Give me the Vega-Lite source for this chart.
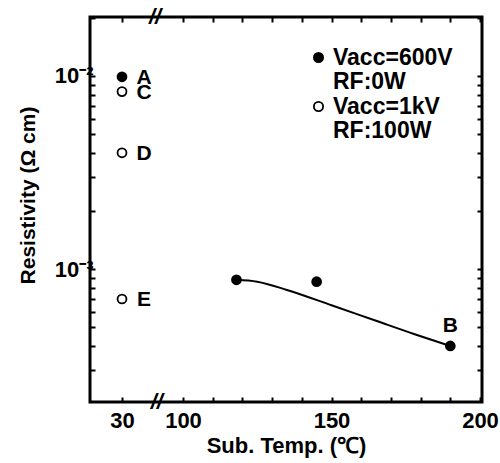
{
  "$schema": "https://vega.github.io/schema/vega-lite/v6.json",
  "width": 392,
  "height": 385,
  "autosize": {"type": "none"},
  "padding": {"left": 90, "top": 17, "right": 18, "bottom": 61},
  "background": "white",
  "config": {
    "view": {"stroke": "black", "strokeWidth": 3},
    "font": "Liberation Sans"
  },
  "datasets": {
    "curve": [
      {"t": 118, "r": 0.00088},
      {"t": 125, "r": 0.00086},
      {"t": 135, "r": 0.00078},
      {"t": 150, "r": 0.00065},
      {"t": 165, "r": 0.00054},
      {"t": 178, "r": 0.00046},
      {"t": 190, "r": 0.0004}
    ],
    "points": [
      {"t": 30, "r": 0.0099, "s": "600", "label": "A"},
      {"t": 30, "r": 0.0083, "s": "1k", "label": "C"},
      {"t": 30, "r": 0.004, "s": "1k", "label": "D"},
      {"t": 30, "r": 0.0007, "s": "1k", "label": "E"},
      {"t": 118, "r": 0.00088, "s": "600", "label": ""},
      {"t": 145, "r": 0.00086, "s": "600", "label": ""},
      {"t": 190, "r": 0.0004, "s": "600", "label": "B"}
    ],
    "breaks": [
      {"t": 68, "r": 0.0202, "mark": "//"},
      {"t": 70, "r": 0.000205, "mark": "//"}
    ]
  },
  "layer": [
    {
      "data": {"name": "curve"},
      "mark": {"type": "line", "interpolate": "monotone", "color": "black", "strokeWidth": 2},
      "encoding": {
        "x": {
          "field": "t", "type": "quantitative",
          "scale": {"domain": [0, 30, 100, 200.67], "range": [0, 32, 93, 392], "nice": false, "zero": false},
          "axis": {
            "orient": "bottom",
            "values": [30, 100, 110, 120, 130, 140, 150, 160, 170, 180, 190, 200],
            "labelExpr": "indexof([30, 100, 150, 200], datum.value) >= 0 ? datum.label : ''",
            "domain": false, "grid": false,
            "tickSize": -5, "tickWidth": 2, "tickColor": "black",
            "labelFontSize": 22, "labelFontWeight": "bold", "labelColor": "black",
            "labelPadding": 13, "labelFlush": false, "labelOverlap": false,
            "title": "Sub. Temp. (℃)", "titleFontSize": 22, "titleFontWeight": "bold", "titleColor": "black",
            "titleX": 196, "titleY": 50, "titleBaseline": "alphabetic", "titleAlign": "center"
          }
        },
        "y": {
          "field": "r", "type": "quantitative",
          "scale": {"type": "log", "domain": [0.000205, 0.0202], "nice": false},
          "axis": {
            "orient": "left",
            "values": [0.0003, 0.0004, 0.0005, 0.0006, 0.0007, 0.0008, 0.0009, 0.001, 0.002, 0.003, 0.004, 0.005, 0.006, 0.007, 0.008, 0.009, 0.01, 0.02],
            "labelExpr": "datum.value == 0.01 ? '10⁻²' : datum.value == 0.001 ? '10⁻³' : ''",
            "domain": false, "grid": false,
            "tickSize": -5, "tickWidth": 2, "tickColor": "black",
            "labelFontSize": 22, "labelFontWeight": "bold", "labelColor": "black",
            "labelPadding": 2, "labelOverlap": false, "labelFlush": false,
            "title": "Resistivity (Ω cm)", "titleFontSize": 21, "titleFontWeight": "bold", "titleColor": "black",
            "titleX": -62, "titleY": 178, "titleAngle": 270, "titleBaseline": "middle", "titleAlign": "center"
          }
        }
      }
    },
    {
      "data": {"name": "points"},
      "mark": {"type": "point", "filled": true, "shape": "circle", "size": 80, "strokeWidth": 1.8, "opacity": 1},
      "encoding": {
        "x": {
          "field": "t", "type": "quantitative",
          "axis": {
            "orient": "top", "offset": -5,
            "values": [30, 100, 110, 120, 130, 140, 150, 160, 170, 180, 190, 200],
            "labels": false, "domain": false, "grid": false, "title": null,
            "tickSize": 5, "tickWidth": 2, "tickColor": "black"
          }
        },
        "y": {
          "field": "r", "type": "quantitative",
          "axis": {
            "orient": "right", "offset": -5,
            "values": [0.0003, 0.0004, 0.0005, 0.0006, 0.0007, 0.0008, 0.0009, 0.001, 0.002, 0.003, 0.004, 0.005, 0.006, 0.007, 0.008, 0.009, 0.01, 0.02],
            "labels": false, "domain": false, "grid": false, "title": null,
            "tickSize": 5, "tickWidth": 2, "tickColor": "black"
          }
        },
        "fill": {
          "field": "s", "type": "nominal",
          "scale": {"domain": ["600", "600rf", "1k", "1krf"], "range": ["black", "transparent", "white", "transparent"]},
          "legend": {
            "orient": "none", "legendX": 217, "legendY": 29,
            "title": null,
            "direction": "vertical",
            "symbolType": "circle", "symbolSize": 85, "symbolStrokeWidth": 1.8,
            "labelExpr": "datum.label == '600' ? 'Vacc=600V' : datum.label == '600rf' ? 'RF:0W' : datum.label == '1k' ? 'Vacc=1kV' : 'RF:100W'",
            "labelFontSize": 23, "labelFontWeight": "bold", "labelColor": "black",
            "labelOffset": 3, "labelLimit": 0,
            "rowPadding": 0.5
          }
        },
        "stroke": {
          "field": "s", "type": "nominal",
          "scale": {"domain": ["600", "600rf", "1k", "1krf"], "range": ["black", "transparent", "black", "transparent"]},
          "legend": {
            "orient": "none", "legendX": 217, "legendY": 29,
            "title": null,
            "direction": "vertical",
            "symbolType": "circle", "symbolSize": 85, "symbolStrokeWidth": 1.8,
            "labelExpr": "datum.label == '600' ? 'Vacc=600V' : datum.label == '600rf' ? 'RF:0W' : datum.label == '1k' ? 'Vacc=1kV' : 'RF:100W'",
            "labelFontSize": 23, "labelFontWeight": "bold", "labelColor": "black",
            "labelOffset": 3, "labelLimit": 0,
            "rowPadding": 0.5
          }
        }
      }
    },
    {
      "data": {"name": "points"},
      "transform": [{"filter": "datum.t == 30"}],
      "mark": {"type": "text", "dx": 22, "dy": 1, "align": "center", "baseline": "middle", "fontSize": 21, "fontWeight": "bold", "color": "black"},
      "encoding": {
        "x": {"field": "t", "type": "quantitative", "axis": null},
        "y": {"field": "r", "type": "quantitative", "axis": null},
        "text": {"field": "label"}
      }
    },
    {
      "data": {"name": "points"},
      "transform": [{"filter": "datum.label == 'B'"}],
      "mark": {"type": "text", "dy": -20, "align": "center", "baseline": "middle", "fontSize": 21, "fontWeight": "bold", "color": "black"},
      "encoding": {
        "x": {"field": "t", "type": "quantitative", "axis": null},
        "y": {"field": "r", "type": "quantitative", "axis": null},
        "text": {"field": "label"}
      }
    },
    {
      "data": {"name": "breaks"},
      "mark": {"type": "text", "align": "center", "baseline": "middle", "fontSize": 22, "fontWeight": "bold", "fontStyle": "italic", "color": "black"},
      "encoding": {
        "x": {"field": "t", "type": "quantitative", "axis": null},
        "y": {"field": "r", "type": "quantitative", "axis": null},
        "text": {"field": "mark"}
      }
    }
  ],
  "resolve": {"axis": {"x": "independent", "y": "independent"}}
}
